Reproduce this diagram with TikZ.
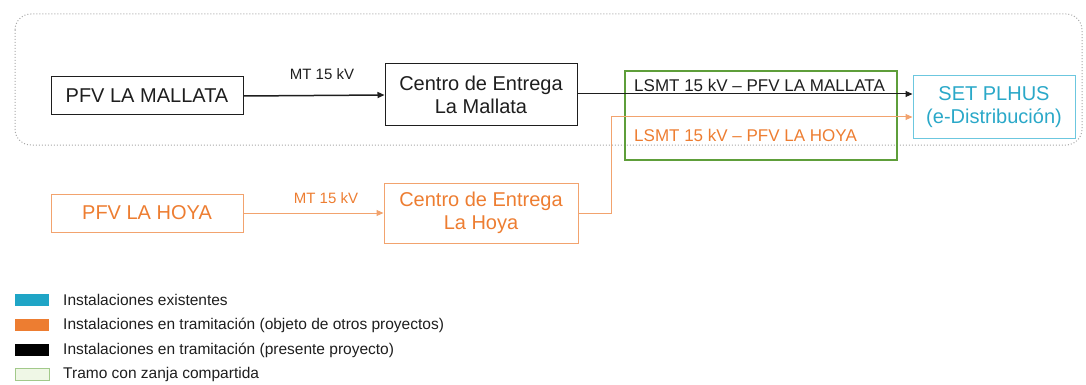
\documentclass[tikz,border=0pt]{standalone}
\usepackage{fontspec}
\setmainfont{Liberation Sans}
\usetikzlibrary{arrows.meta}
\definecolor{orng}{HTML}{ED7D31}
\definecolor{orngline}{HTML}{F2A36E}
\definecolor{cyantxt}{HTML}{2AA8C8}
\definecolor{cyanline}{HTML}{6CC7DF}
\definecolor{cyanfill}{HTML}{1FA5C6}
\definecolor{grn}{HTML}{5E9E3A}
\definecolor{grnlight}{HTML}{A2C98A}
\definecolor{grnfill}{HTML}{EFF7E6}
\definecolor{dotgray}{HTML}{A8A8A8}
\definecolor{blk}{HTML}{1E1E1E}
\tikzset{
  bigtxt/.style={font=\fontsize{20}{23}\selectfont, align=center},
  blackbox/.style={draw=blk, line width=1pt, inner sep=0pt, bigtxt, text=blk},
  orangebox/.style={draw=orngline, line width=1pt, inner sep=0pt, bigtxt, text=orng},
  cyanbox/.style={draw=cyanline, line width=1pt, inner sep=0pt, bigtxt, text=cyantxt},
  lbl/.style={font=\fontsize{15}{17}\selectfont, inner sep=0pt},
  lsmt/.style={font=\fontsize{17}{19}\selectfont, inner sep=0pt, anchor=west},
  tip/.style={-{Triangle[length=7pt,width=6pt]}},
  legtxt/.style={font=\fontsize{15.5}{17}\selectfont, inner sep=0pt, anchor=west, text=blk},
  swatch/.style={inner sep=0pt, minimum width=34pt, minimum height=12pt, anchor=west}
}
\begin{document}
\begin{tikzpicture}[x=1pt,y=-1pt]
\useasboundingbox (0,0) rectangle (1086,385);
% dotted rounded frame
\draw[dotgray, line width=1pt, dotted, rounded corners=16pt] (15,14) rectangle (1082,145);
% green shared trench box
\node[draw=grn, line width=2pt, minimum width=272pt, minimum height=89pt, inner sep=0pt] (trench) at (761,115.5) {};
% boxes
\node[blackbox, minimum width=192pt, minimum height=38pt] (pfvm) at (147,96) {PFV LA MALLATA};
\node[blackbox, minimum width=192pt, minimum height=62pt] (cem) at (481,95) {Centro de Entrega\\La Mallata};
\node[cyanbox, minimum width=162pt, minimum height=62pt] (set) at (994,107) {SET PLHUS\\(e-Distribución)};
\node[orangebox, minimum width=192pt, minimum height=38pt] (pfvh) at (147,213) {PFV LA HOYA};
\node[orangebox, minimum width=194pt, minimum height=60pt] (ceh) at (481,213) {Centro de Entrega\\La Hoya};
% labels
\node[lbl, text=blk] (mt1) at (322,74) {MT 15 kV};
\node[lbl, text=orng] (mt2) at (326,198) {MT 15 kV};
\node[lsmt, text=blk] (ls1) at (634,85) {LSMT 15 kV – PFV LA MALLATA};
\node[lsmt, text=orng] (ls2) at (634,135) {LSMT 15 kV – PFV LA HOYA};
% connectors
\coordinate (bk) at (611,117);
\draw[blk, line width=1.5pt, tip] (pfvm.east) -- (cem.west);
\draw[blk, line width=1pt, tip] (cem.east |- 0,94) -- (set.west |- 0,94);
\draw[orngline, line width=1pt, tip] (pfvh.east) -- (ceh.west);
\draw[orngline, line width=1pt, tip] (ceh.east) -| (bk) -- (set.west |- bk);
% legend
\node[swatch, fill=cyanfill] (sw1) at (15,300) {};
\node[swatch, fill=orng] (sw2) at (15,325) {};
\node[swatch, fill=black] (sw3) at (15,350) {};
\node[swatch, fill=grnfill, draw=grnlight, line width=1pt] (sw4) at (15,374) {};
\node[legtxt] (l1) at (63,300) {Instalaciones existentes};
\node[legtxt] (l2) at (63,325) {Instalaciones en tramitación (objeto de otros proyectos)};
\node[legtxt] (l3) at (63,350) {Instalaciones en tramitación (presente proyecto)};
\node[legtxt] (l4) at (63,374) {Tramo con zanja compartida};
\end{tikzpicture}
\end{document}
